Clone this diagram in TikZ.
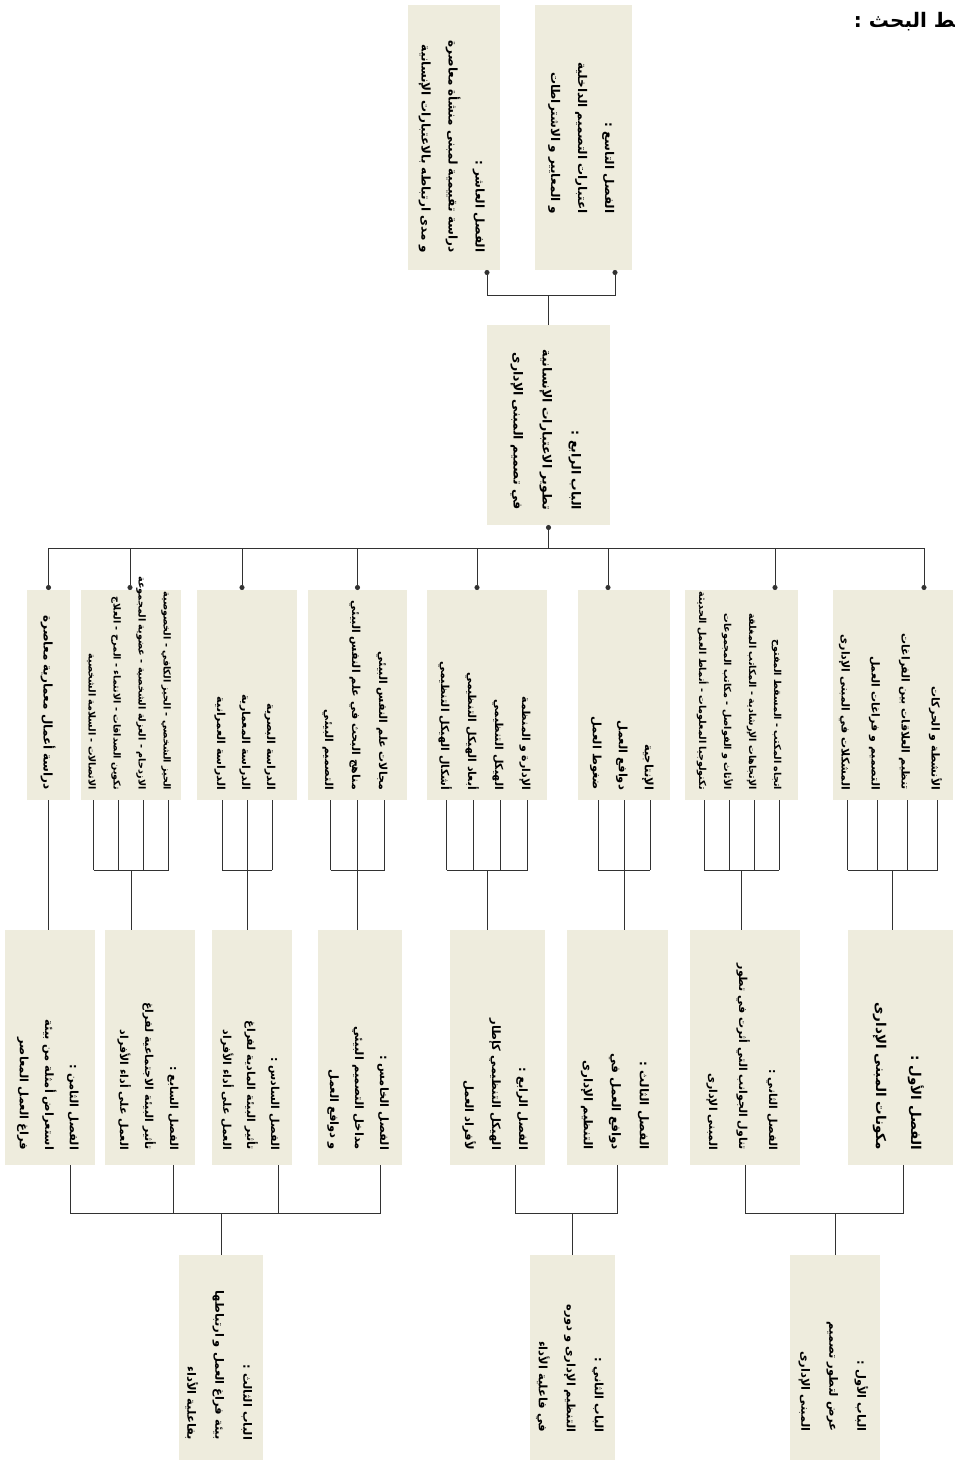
\documentclass[tikz,border=0pt]{standalone}
\usepackage{fontspec}
\usepackage{graphicx}
\usetikzlibrary{arrows.meta,calc}
\TeXXeTstate=1
\newfontfamily\arabicfont[Script=Arabic]{DejaVu Sans}
\definecolor{boxc}{RGB}{238,236,221}
\definecolor{linec}{RGB}{50,50,50}
\newcommand{\arl}[1]{\beginR #1\endR}
% bottom-aligned block (right end of lines at page bottom): width, size, skip, lines
\newcommand{\rl}[4]{\rotatebox{-90}{\hbox to #1{\hss\arabicfont\bfseries\fontsize{#2}{#3}\selectfont\begin{tabular}{@{}r@{}}#4\end{tabular}}}}
\tikzset{
  box/.style={fill=boxc, inner sep=0pt, outer sep=0pt, text=black},
  line/.style={draw=linec, line width=0.8pt},
  dotend/.style={-{Circle[length=5pt]}},
  dotstart/.style={{Circle[length=5pt]}-},
}
\begin{document}
\begin{tikzpicture}[x=1pt,y=-1pt]
\useasboundingbox (0,0) rectangle (955,1470);

% header (cut at the right edge, as in the reference)
\node[anchor=east, inner sep=0pt] (hdr) at (970,22) {\arabicfont\bfseries\fontsize{20}{24}\selectfont\arl{خط البحث :}};

% top boxes
\node[box,minimum width=92pt,minimum height=265pt] (T10) at (454,137.5)
  {\rl{230pt}{12}{27pt}{\arl{الفصل العاشر :}\\\arl{دراسة تقييمية لمبنى منشأة معاصرة}\\\arl{و مدى ارتباطه بالاعتبارات الإنسانية}}};
\node[box,minimum width=97pt,minimum height=265pt] (T9) at (583.5,137.5)
  {\rl{152pt}{12}{27pt}{\arl{الفصل التاسع :}\\\arl{اعتبارات التصميم الداخلية}\\\arl{و المعايير و الاشتراطات}}};

% centre box
\node[box,minimum width=123pt,minimum height=200pt] (C) at (548.5,425)
  {\rl{170pt}{12.5}{29pt}{\arl{الباب الرابع :}\\\arl{تطوير الاعتبارات الإنسانية}\\\arl{في تصميم المبنى الإدارى}}};

\coordinate (topbar) at (0,295);
\draw[line] (C.north) -- (C.north |- topbar);
\draw[line,dotend] (C.north |- topbar) -| ([xshift=33pt]T10.south);
\draw[line,dotend] (C.north |- topbar) -| ([xshift=31.5pt]T9.south);

% list boxes
\node[box,minimum width=111pt,minimum height=210pt] (L1) at (892.5,695)
  {\rl{190pt}{11}{30pt}{\arl{الأنشطة و الحركات}\\\arl{تنظيم العلاقات بين الفراغات}\\\arl{التصميم و فراغات العمل}\\\arl{المشكلات في المبنى الإدارى}}};
\node[box,minimum width=113pt,minimum height=210pt] (L2) at (741.5,695)
  {\rl{190pt}{9.6}{25pt}{\arl{اتجاه المكتب - المسقط المفتوح}\\\arl{الإتجاهات الإرشادية - المكاتب المغلقة}\\\arl{الأثاث و الفواصل - مكاتب المجموعات}\\\arl{تكنولوجيا المعلومات - أنماط العمل الحديثة}}};
\node[box,minimum width=92pt,minimum height=210pt] (L3) at (624,695)
  {\rl{190pt}{11.5}{26pt}{\arl{الإنتاجية}\\\arl{دوافع العمل}\\\arl{ضغوط العمل}}};
\node[box,minimum width=120pt,minimum height=210pt] (L4) at (487,695)
  {\rl{190pt}{11}{27pt}{\arl{الإدارة و المنظمة}\\\arl{الهيكل التنظيمي}\\\arl{أبعاد الهيكل التنظيمي}\\\arl{أشكال الهيكل التنظيمي}}};
\node[box,minimum width=99pt,minimum height=210pt] (L5) at (357.5,695)
  {\rl{190pt}{11}{27pt}{\arl{مجالات علم النفس البيئي}\\\arl{مناهج البحث في علم النفس البيئي}\\\arl{التصميم البيئي}}};
\node[box,minimum width=100pt,minimum height=210pt] (L6) at (247,695)
  {\rl{190pt}{11}{25pt}{\arl{الدراسة البصرية}\\\arl{الدراسة المعمارية}\\\arl{الدراسة العمرانية}}};
\node[box,minimum width=98pt,minimum height=210pt] (L7) at (131,695)
  {\rl{190pt}{9.6}{25pt}{\arl{الحيز الشخصي - الحيز الكافي - الخصوصية}\\\arl{الازدحام - العزلة الشخصية - عضوية المجموعة}\\\arl{تكوين الصداقات - الانتماء - المرح - العلاج}\\\arl{الاتصالات - السلامة الشخصية}}};
\node[box,minimum width=43pt,minimum height=210pt] (L8) at (48.5,695)
  {\rl{190pt}{12}{25pt}{\arl{دراسة أعمال معمارية معاصرة}}};

\coordinate (midbar) at (0,548);
\draw[line,dotstart] (C.south) -- (C.south |- midbar);
\draw[line] ([xshift=31.5pt]L1.north |- midbar) -- (L8.north |- midbar);
\draw[line,dotend] (C.south |- midbar) -| ([xshift=31.5pt]L1.north);
\draw[line,dotend] (C.south |- midbar) -| ([xshift=33.5pt]L2.north);
\draw[line,dotend] (C.south |- midbar) -| ([xshift=-16pt]L3.north);
\draw[line,dotend] (C.south |- midbar) -| ([xshift=-10pt]L4.north);
\draw[line,dotend] (C.south |- midbar) -| (L5.north);
\draw[line,dotend] (C.south |- midbar) -| ([xshift=-5pt]L6.north);
\draw[line,dotend] (C.south |- midbar) -| ([xshift=-1pt]L7.north);
\draw[line,dotend] (C.south |- midbar) -| (L8.north);

% chapter boxes
\node[box,minimum width=105pt,minimum height=235pt] (Ch1) at (900.5,1047.5)
  {\rl{205pt}{13.5}{35pt}{\arl{الفصل الأول :}\\\arl{مكونات المبنى الإدارى}}};
\node[box,minimum width=110pt,minimum height=235pt] (Ch2) at (745,1047.5)
  {\rl{205pt}{11}{30pt}{\arl{الفصل الثاني :}\\\arl{تناول الجوانب التي أثرت في تطور}\\\arl{المبنى الإدارى}}};
\node[box,minimum width=101pt,minimum height=235pt] (Ch3) at (617.5,1047.5)
  {\rl{205pt}{12}{28pt}{\arl{الفصل الثالث :}\\\arl{دوافع العمل في}\\\arl{التنظيم الإدارى}}};
\node[box,minimum width=95pt,minimum height=235pt] (Ch4) at (497.5,1047.5)
  {\rl{205pt}{11.5}{27pt}{\arl{الفصل الرابع :}\\\arl{الهيكل التنظيمي كإطار}\\\arl{لأفراد العمل}}};
\node[box,minimum width=84pt,minimum height=235pt] (Ch5) at (360,1047.5)
  {\rl{205pt}{11.5}{25pt}{\arl{الفصل الخامس :}\\\arl{مداخل التصميم البيئي}\\\arl{و دوافع العمل}}};
\node[box,minimum width=80pt,minimum height=235pt] (Ch6) at (252,1047.5)
  {\rl{205pt}{11}{24pt}{\arl{الفصل السادس :}\\\arl{تأثير البيئة المادية لفراغ}\\\arl{العمل على أداء الأفراد}}};
\node[box,minimum width=90pt,minimum height=235pt] (Ch7) at (150,1047.5)
  {\rl{205pt}{11}{25pt}{\arl{الفصل السابع :}\\\arl{تأثير البيئة الاجتماعية لفراغ}\\\arl{العمل على أداء الأفراد}}};
\node[box,minimum width=90pt,minimum height=235pt] (Ch8) at (50,1047.5)
  {\rl{205pt}{11.5}{25pt}{\arl{الفصل الثامن :}\\\arl{استعراض أمثلة من بيئة}\\\arl{فراغ العمل المعاصر}}};

% brackets between list boxes and chapter boxes
\coordinate (bar) at (0,870);
\foreach \L/\C/\offs/\w in {L1/Ch1/{-45,-15,15,45}/45, L2/Ch2/{-37.5,-12.5,12.5,37.5}/37.5,
    L3/Ch3/{-26,0,26}/26, L4/Ch4/{-40.5,-13.5,13.5,40.5}/40.5, L5/Ch5/{-27,0,27}/27,
    L6/Ch6/{-25,0,25}/25, L7/Ch7/{-37.5,-12.5,12.5,37.5}/37.5}{
  \foreach \o in \offs { \draw[line] ([xshift=\o pt]\L.south) -- ([xshift=\o pt]\L.south |- bar); }
  \draw[line] ([xshift=-\w pt]\L.south |- bar) -- ([xshift=\w pt]\L.south |- bar);
  \draw[line] (\L.south |- bar) -- (\L.south |- \C.north);
}
\draw[line] (L8.south) -- (L8.south |- Ch8.north);

% bottom boxes
\node[box,minimum width=90pt,minimum height=205pt] (B1) at (835,1357.5)
  {\rl{148pt}{11.5}{28pt}{\arl{الباب الأول :}\\\arl{عرض لتطور تصميم}\\\arl{المبنى الإدارى}}};
\node[box,minimum width=85pt,minimum height=205pt] (B2) at (572.5,1357.5)
  {\rl{150pt}{11.5}{28pt}{\arl{الباب الثاني :}\\\arl{التنظيم الإدارى و دوره}\\\arl{في فاعلية الأداء}}};
\node[box,minimum width=82pt,minimum height=205pt] (B3) at (221,1357.5)
  {\rl{165pt}{11.5}{28pt}{\arl{الباب الثالث :}\\\arl{بيئة فراغ العمل و ارتباطها}\\\arl{بفاعلية الأداء}}};

\coordinate (botbar) at (0,1213);
\draw[line] (B1.north) -- (B1.north |- botbar);
\draw[line] (B1.north |- botbar) -| ([xshift=2.5pt]Ch1.south);
\draw[line] (B1.north |- botbar) -| (Ch2.south);
\draw[line] (B2.north) -- (B2.north |- botbar);
\draw[line] (B2.north |- botbar) -| (Ch3.south);
\draw[line] (B2.north |- botbar) -| ([xshift=17.5pt]Ch4.south);
\draw[line] (B3.north) -- (B3.north |- botbar);
\draw[line] (B3.north |- botbar) -| ([xshift=20pt]Ch5.south);
\draw[line] (B3.north |- botbar) -| ([xshift=26pt]Ch6.south);
\draw[line] (B3.north |- botbar) -| ([xshift=23pt]Ch7.south);
\draw[line] (B3.north |- botbar) -| ([xshift=20pt]Ch8.south);
\end{tikzpicture}
\end{document}
